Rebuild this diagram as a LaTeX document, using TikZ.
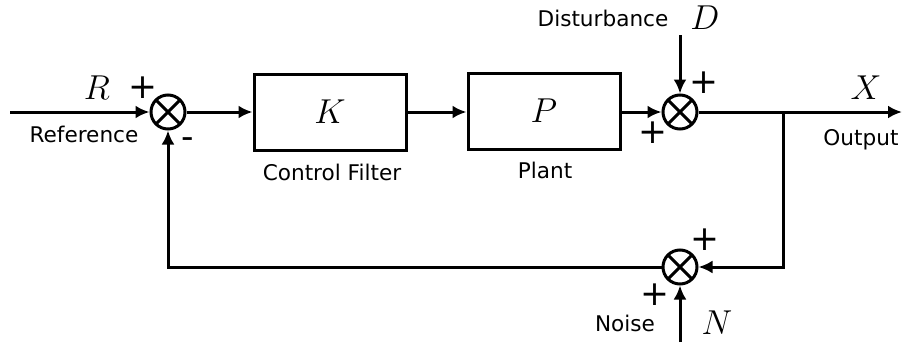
\documentclass[tikz,border=0pt]{standalone}
\usepackage{fontspec}
\setmainfont{DejaVu Sans}
\usetikzlibrary{arrows.meta,positioning,calc}

\begin{document}
\begin{tikzpicture}[
    x=0.5pt,y=-0.5pt,
    sumnode/.style={circle,draw,line width=1.5pt,minimum size=17pt,inner sep=0pt,
      path picture={\draw[line width=1.5pt]
        (path picture bounding box.north west) -- (path picture bounding box.south east)
        (path picture bounding box.north east) -- (path picture bounding box.south west);}},
    blk/.style={rectangle,draw,line width=1.5pt,minimum width=76pt,minimum height=38pt,font=\LARGE},
    sig/.style={line width=1.5pt,-{Latex[length=7pt,width=6.5pt]}},
    lbl/.style={font=\fontsize{10.8}{13}\selectfont},
    sgn/.style={font=\LARGE,inner sep=0pt},
    var/.style={font=\LARGE,inner sep=0pt},
  ]
  \useasboundingbox (0,0) rectangle (907,348);
  % Summing junctions and blocks
  \node[sumnode] (s1) at (168,112) {};
  \node[blk] (K) at (330,112) {$K$};
  \node[blk] (P) at (544,111) {$P$};
  \node[sumnode] (s2) at (680,112) {};
  \node[sumnode] (s3) at (680,267) {};
  % Free ends
  \coordinate (in) at (10,112);
  \coordinate (d) at (680,35);
  \coordinate (out) at (902,112);
  \coordinate (br) at (783,112);
  \coordinate (n) at (680,342);
  % Forward path
  \draw[sig] (in) -- (s1);
  \draw[sig] (s1) -- (s1 -| K.west);
  \draw[sig] (s1 -| K.east) -- (s1 -| P.west);
  \draw[sig] (s2 -| P.east) -- (s2);
  \draw[sig] (d) -- (s2);
  \draw[sig] (s2) -- (out);
  % Feedback path
  \draw[sig] (br) |- (s3);
  \draw[sig] (n) -- (s3);
  \draw[sig] (s3) -| (s1);
  % Labels
  \node[var] (lR) at (97,88) {$R$};
  \node[sgn] (p1) at (143,88) {+};
  \node[lbl] (lref) at (84,134) {Reference};
  \node[sgn] (m1) at (188,143) {-};
  \node[lbl] (lK) at (332,172) {Control Filter};
  \node[lbl] (lP) at (545,170) {Plant};
  \node[lbl] (ldist) at (603,18) {Disturbance};
  \node[var] (lD) at (705,18) {$D$};
  \node[sgn] (p2) at (704,83) {+};
  \node[sgn] (p3) at (653,133) {+};
  \node[var] (lX) at (866,88) {$X$};
  \node[lbl] (lout) at (861,140) {Output};
  \node[sgn] (p4) at (705,240) {+};
  \node[sgn] (p5) at (655,295) {+};
  \node[lbl] (lnoise) at (625,323) {Noise};
  \node[var] (lN) at (717,323) {$N$};
\end{tikzpicture}
\end{document}
